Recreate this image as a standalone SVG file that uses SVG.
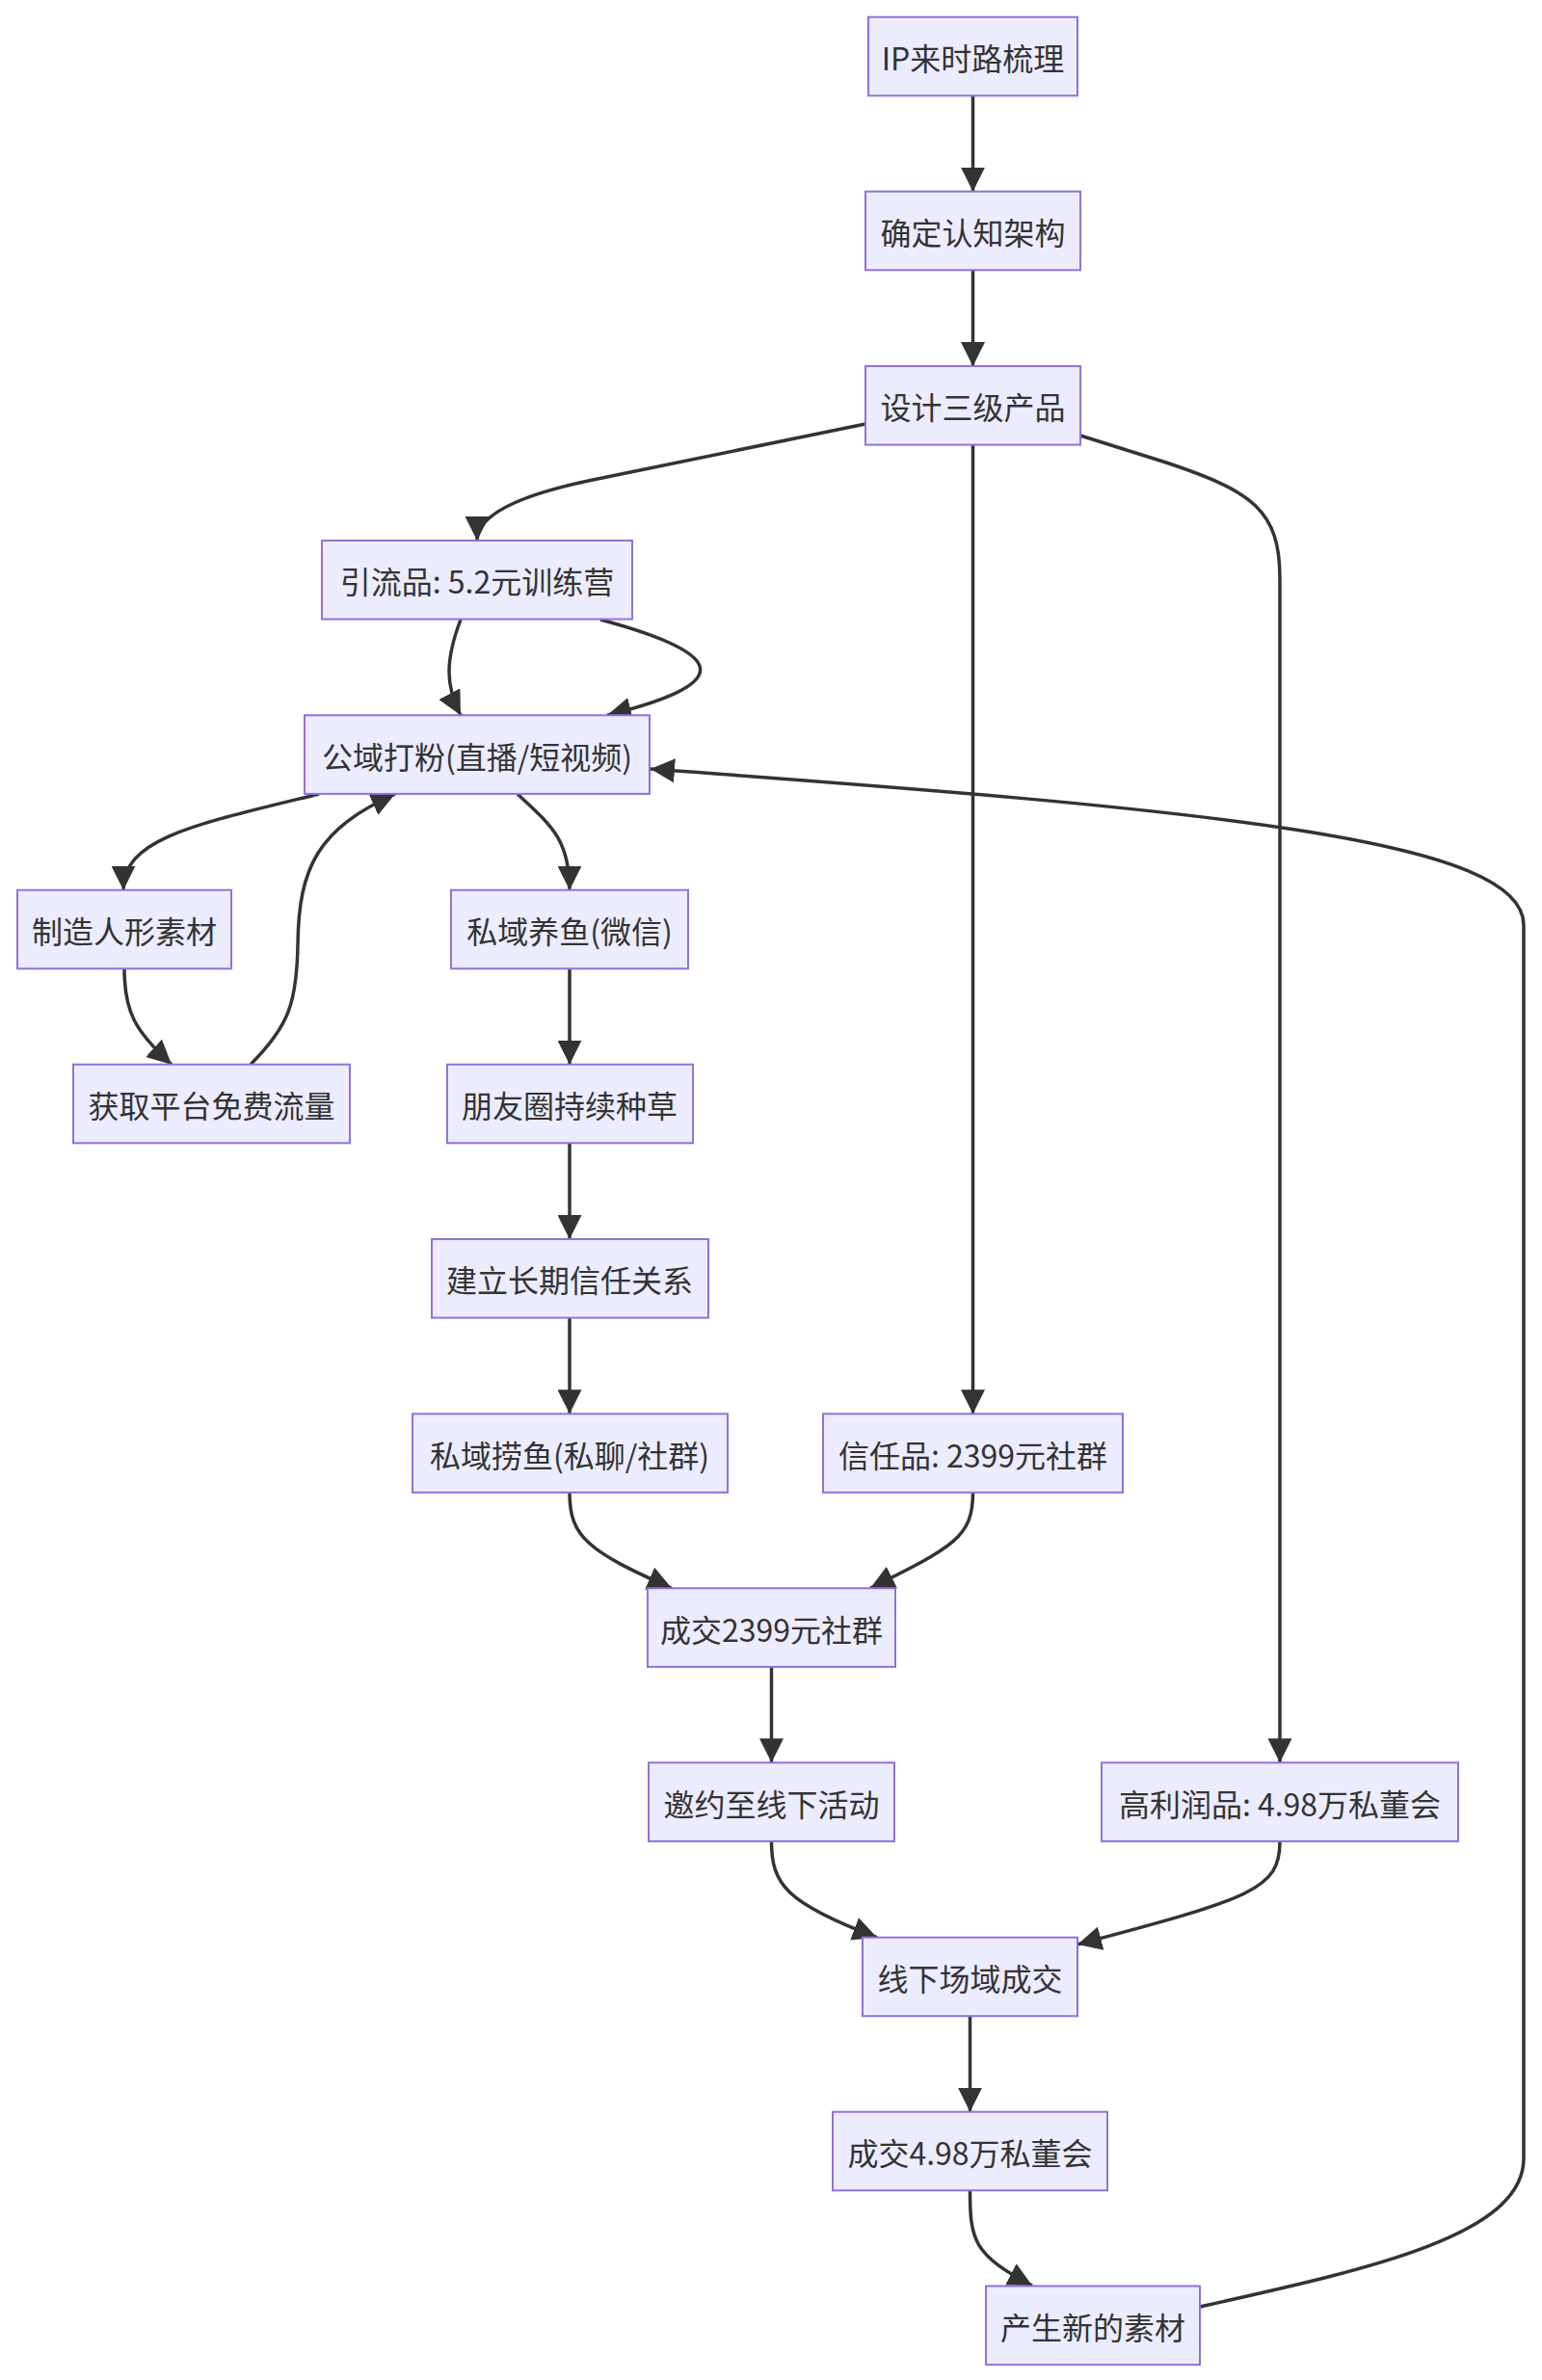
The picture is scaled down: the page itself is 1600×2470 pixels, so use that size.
<svg xmlns="http://www.w3.org/2000/svg" width="1600" height="2470" viewBox="0 0 1600 2470">
<defs>
<style>
.node rect{fill:#ECECFF;stroke:#9370DB;stroke-width:2}
.node text{font-family:"Noto Sans CJK SC","Noto Sans",sans-serif;font-size:32px;fill:#333333;text-anchor:middle;dominant-baseline:central}
.edges path{fill:none;stroke:#333333;stroke-width:3.5;marker-end:url(#arrow)}
</style>
<marker id="arrow" viewBox="0 0 10 10" refX="10" refY="5" markerUnits="userSpaceOnUse" markerWidth="25" markerHeight="25" orient="auto">
<path d="M0,0 L10,5 L0,10 z" fill="#333333"/>
</marker>
</defs>
<rect width="1600" height="2470" fill="#ffffff"/>
<g class="edges">
<path d="M1009.5,99.3 L1009.5,198.7"/>
<path d="M1009.5,280.3 L1009.5,380"/>
<path d="M898,440 L620,497 Q495,522 495,561"/>
<path d="M1009.5,461.7 L1009.5,1467.3"/>
<path d="M1121,452 L1210,480 C1300,510 1328,530 1328,600 L1328,1829.3"/>
<path d="M478,643 C462,685 462,712 478,742.3"/>
<path d="M623,643 C760,680 760,710 630,742.3"/>
<path d="M331,824 C200,856 128,870 128,923.7"/>
<path d="M129,1005.3 C129,1050 140,1070 178,1104.7"/>
<path d="M260,1104.7 C300,1065 308,1040 309,980 C310,900 330,860 410,824"/>
<path d="M537,824 C570,855 591,870 591,923.7"/>
<path d="M591,1005.3 L591,1104.7"/>
<path d="M591,1186.3 L591,1286"/>
<path d="M591,1367.6 L591,1467.3"/>
<path d="M591,1549 C591,1595 610,1610 697,1648.3"/>
<path d="M1009.5,1549 C1009.5,1595 990,1605 903,1648.3"/>
<path d="M800.5,1730 L800.5,1829.3"/>
<path d="M800.5,1911 C800.5,1955 815,1975 910,2010.7"/>
<path d="M1328,1911.6 C1328,1960 1300,1970 1118,2018"/>
<path d="M1006.5,2092.3 L1006.5,2191.7"/>
<path d="M1006.5,2273.3 C1006.5,2325 1010,2340 1071,2372"/>
<path d="M1245,2394 C1420,2355 1581,2320 1581,2240 L1581,960 C1581,870 1250,840 675,798"/>
</g>
<g id="A" class="node"><rect x="901" y="17.7" width="217" height="81.6"/><text x="1009.5" y="59">IP来时路梳理</text></g>
<g id="B" class="node"><rect x="898" y="198.7" width="223" height="81.6"/><text x="1009.5" y="240">确定认知架构</text></g>
<g id="C" class="node"><rect x="898" y="380" width="223" height="81.6"/><text x="1009.5" y="421.3">设计三级产品</text></g>
<g id="D" class="node"><rect x="334" y="561" width="322" height="81.6"/><text x="495" y="602.3">引流品: 5.2元训练营</text></g>
<g id="E" class="node"><rect x="316" y="742.3" width="358" height="81.6"/><text x="495" y="783.6">公域打粉(直播/短视频)</text></g>
<g id="F" class="node"><rect x="18" y="923.7" width="222" height="81.6"/><text x="129" y="965">制造人形素材</text></g>
<g id="G" class="node"><rect x="468" y="923.7" width="246" height="81.6"/><text x="591" y="965">私域养鱼(微信)</text></g>
<g id="H" class="node"><rect x="76" y="1104.7" width="287" height="81.6"/><text x="219.5" y="1146">获取平台免费流量</text></g>
<g id="I" class="node"><rect x="464" y="1104.7" width="255" height="81.6"/><text x="591" y="1146">朋友圈持续种草</text></g>
<g id="J" class="node"><rect x="448" y="1286" width="287" height="81.6"/><text x="591" y="1327.3">建立长期信任关系</text></g>
<g id="K" class="node"><rect x="428" y="1467.3" width="327" height="81.6"/><text x="591" y="1508.6">私域捞鱼(私聊/社群)</text></g>
<g id="L" class="node"><rect x="854" y="1467.3" width="311" height="81.6"/><text x="1009.5" y="1508.6">信任品: 2399元社群</text></g>
<g id="M" class="node"><rect x="672" y="1648.3" width="257" height="81.6"/><text x="800.5" y="1689.6">成交2399元社群</text></g>
<g id="N" class="node"><rect x="673" y="1829.3" width="255" height="81.6"/><text x="800.5" y="1870.6">邀约至线下活动</text></g>
<g id="O" class="node"><rect x="1143" y="1829.3" width="370" height="81.6"/><text x="1328" y="1870.6">高利润品: 4.98万私董会</text></g>
<g id="P" class="node"><rect x="895" y="2010.7" width="223" height="81.6"/><text x="1006.5" y="2052">线下场域成交</text></g>
<g id="Q" class="node"><rect x="864" y="2191.7" width="285" height="81.6"/><text x="1006.5" y="2233">成交4.98万私董会</text></g>
<g id="R" class="node"><rect x="1023" y="2372.5" width="222" height="81.6"/><text x="1134" y="2413.8">产生新的素材</text></g>
</svg>
